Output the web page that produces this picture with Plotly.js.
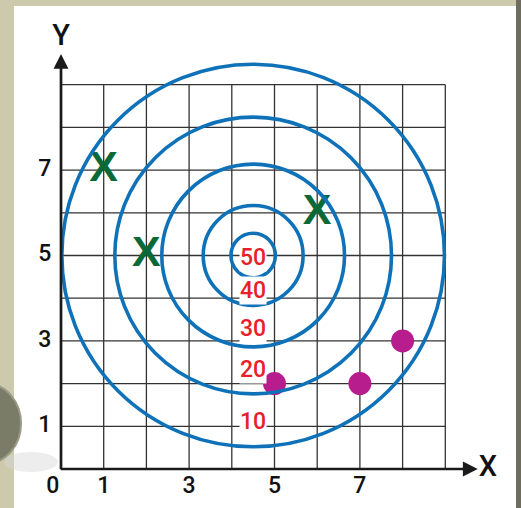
<!DOCTYPE html>
<html>
<head>
<meta charset="utf-8">
<script src="https://cdn.plot.ly/plotly-3.0.1.min.js"></script>
<style>html,body{margin:0;padding:0;background:#cdc9ad;}</style>
</head>
<body>
<div id="chart" style="width:521px;height:508px;"></div>
<script>
// ---- data ----
var ringCenterX = 4.5;
var ringCenterY = 5;
var ringRadii = [0.52, 1.17, 2.14, 3.24, 4.48];
var ringScores = ["50", "40", "30", "20", "10"];
var ringLabelY = [4.95, 4.17, 3.3, 2.32, 1.11];

var crossX = [1, 2, 6];
var crossY = [7, 5, 6];

var dotX = [5, 7, 8];
var dotY = [2, 2, 3];

var xTickVals = [1, 3, 5, 7];
var xTickText = ["1", "3", "5", "7"];
var yTickVals = [1, 3, 5, 7];
var yTickText = ["1", "3", "5", "7"];
var gridMax = 9;

// ---- layout helpers (pixel geometry of the picture) ----
var W = 521, H = 508;
var originPx = 61, originPy = 469, unit = 42.7;
var xRange = [-originPx / unit, (W - originPx) / unit];
var yRange = [-(H - originPy) / unit, originPy / unit];

var shapes = [];
// white panel
shapes.push({type:'rect', xref:'paper', yref:'paper', x0:14/W, x1:516/W, y0:0, y1:(H-6)/H,
  fillcolor:'#ffffff', line:{width:0}, layer:'below'});
// soft shadow on panel
shapes.push({type:'circle', xref:'paper', yref:'paper', x0:4/W, x1:58/W, y0:(H-472)/H, y1:(H-452)/H,
  fillcolor:'#d6d6d6', opacity:0.45, line:{width:0}, layer:'below'});
// dark right strip
shapes.push({type:'rect', xref:'paper', yref:'paper', x0:516/W, x1:1, y0:0, y1:1,
  fillcolor:'#6e6c5c', line:{width:0}, layer:'below'});
// coin at left
shapes.push({type:'circle', xref:'paper', yref:'paper', x0:-46/W, x1:21/W, y0:(H-463)/H, y1:(H-384)/H,
  fillcolor:'#7b7c68', line:{width:2, color:'#9a9a86'}, layer:'below'});

// grid
for (var i = 0; i <= gridMax; i++) {
  shapes.push({type:'line', xref:'x', yref:'y', x0:i, x1:i, y0:0, y1:gridMax,
    line:{color:'#333333', width:1.3}, layer:'below'});
  shapes.push({type:'line', xref:'x', yref:'y', x0:0, x1:gridMax, y0:i, y1:i,
    line:{color:'#333333', width:1.3}, layer:'below'});
}
// rings
ringRadii.forEach(function(r){
  shapes.push({type:'circle', xref:'x', yref:'y',
    x0:ringCenterX - r, x1:ringCenterX + r, y0:ringCenterY - r, y1:ringCenterY + r,
    line:{color:'#0f72b8', width:3.6}, layer:'above'});
});

var fontFam = 'Roboto, Liberation Sans, Arial, sans-serif';

var annotations = [];
// axis arrows
annotations.push({xref:'x', yref:'y', axref:'x', ayref:'y', x:0, y:9.72, ax:0, ay:-0.04,
  showarrow:true, arrowhead:2, arrowsize:1.1, arrowwidth:2.7, arrowcolor:'#1a1a1a', text:''});
annotations.push({xref:'x', yref:'y', axref:'x', ayref:'y', x:9.76, y:0, ax:-0.04, ay:0,
  showarrow:true, arrowhead:2, arrowsize:1.1, arrowwidth:2.7, arrowcolor:'#1a1a1a', text:''});
// ring score labels
ringScores.forEach(function(s, k){
  annotations.push({xref:'x', yref:'y', x:ringCenterX, y:ringLabelY[k], text:s, showarrow:false,
    bgcolor:'#ffffff', borderpad:0,
    font:{family:fontFam, size:23, color:'#e8202b', weight:500}});
});

var traces = [
  {type:'scatter', mode:'text', x:crossX, y:crossY, text:crossX.map(function(){return 'X';}),
   textposition:'middle center', cliponaxis:false,
   textfont:{family:'Liberation Sans, Arial, sans-serif', size:43, color:'#0a6a37', weight:'bold'}, hoverinfo:'skip'},
  {type:'scatter', mode:'markers', x:dotX, y:dotY, cliponaxis:false,
   marker:{size:23, color:'#b71d8c', line:{width:0}}, hoverinfo:'skip'},
  {type:'scatter', mode:'text', x:xTickVals, y:xTickVals.map(function(){return -0.43;}), text:xTickText,
   textposition:'middle center', cliponaxis:false,
   textfont:{family:fontFam, size:23, color:'#111111', weight:500}, hoverinfo:'skip'},
  {type:'scatter', mode:'text', x:yTickVals.map(function(){return -0.38;}), y:yTickVals, text:yTickText,
   textposition:'middle center', cliponaxis:false,
   textfont:{family:fontFam, size:23, color:'#111111', weight:500}, hoverinfo:'skip'},
  {type:'scatter', mode:'text', x:[-0.19, 0, 10.0], y:[-0.43, 10.09, 0], text:['0', 'Y', 'X'],
   textposition:'middle center', cliponaxis:false,
   textfont:{family:fontFam, size:[23, 29, 29], color:'#111111', weight:500}, hoverinfo:'skip'}
];

var layout = {
  width:W, height:H, autosize:false,
  margin:{l:0, r:0, t:0, b:0, pad:0},
  paper_bgcolor:'#cdc9ad', plot_bgcolor:'rgba(0,0,0,0)',
  showlegend:false,
  xaxis:{range:xRange, visible:false, fixedrange:true},
  yaxis:{range:yRange, visible:false, fixedrange:true},
  shapes:shapes, annotations:annotations
};

Plotly.newPlot('chart', traces, layout, {staticPlot:true, displayModeBar:false});
</script>
</body>
</html>
